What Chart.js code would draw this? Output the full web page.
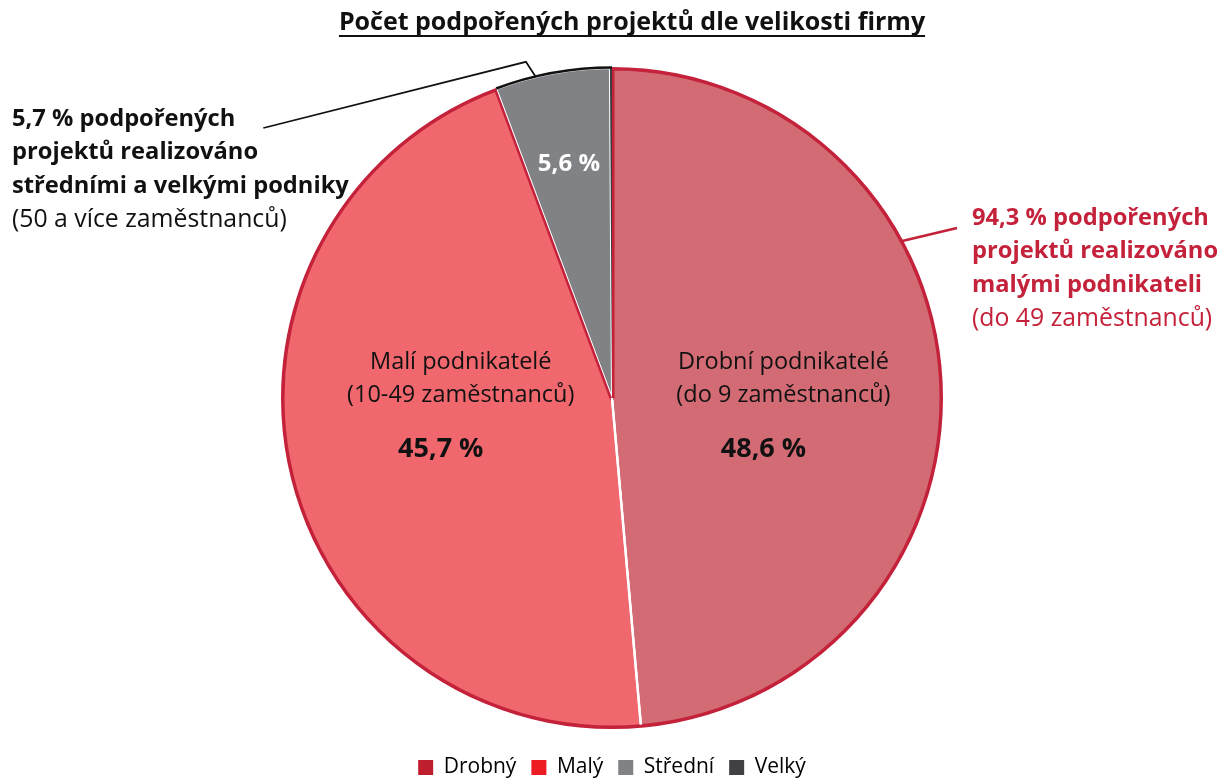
<!DOCTYPE html>
<html lang="cs">
<head>
<meta charset="utf-8">
<script src="https://cdn.jsdelivr.net/npm/chart.js@4"></script>
<style>
  html, body { margin: 0; padding: 0; background: #fff; }
  #obal { width: 1221px; height: 780px; }
</style>
</head>
<body>
<div id="obal"><canvas id="grafFirmy"></canvas></div>
<script>
// ─── DATA ───
var TITULEK = 'Počet podpořených projektů dle velikosti firmy';
var KATEGORIE = ['Drobný', 'Malý', 'Střední', 'Velký'];
var PODILY = [48.6, 45.7, 5.6, 0.1];
var POPISKY_PCT = ['48,6 %', '45,7 %', '5,6 %', ''];
var POPISKY_NAZEV = [
  ['Drobní podnikatelé', '(do 9 zaměstnanců)'],
  ['Malí podnikatelé', '(10-49 zaměstnanců)'],
  [],
  []
];
var POZN_MALI = ['94,3 % podpořených', 'projektů realizováno', 'malými podnikateli', '(do 49 zaměstnanců)'];
var POZN_VELCI = ['5,7 % podpořených', 'projektů realizováno', 'středními a velkými podniky', '(50 a více zaměstnanců)'];

// ─── BARVY ───
var BARVY_VYSECI = ['#D36B75', '#F0686E', '#808285', '#3B3B3D'];
var BARVY_LEGENDA = ['#BE1E2D', '#ED1C24', '#808285', '#414042'];
var CERVENA = '#C4213A';
var PISMO = '"Open Sans", Lato, sans-serif';

Chart.defaults.font.family = PISMO;

// Popisky, obrysy skupin a odkazové čáry
var popiskyPlugin = {
  id: 'popisky',
  afterDatasetsDraw: function(chart) {
    var ctx = chart.ctx;
    var arcs = chart.getDatasetMeta(0).data;
    var cx = arcs[0].x, cy = arcs[0].y, R = arcs[0].outerRadius;

    function bod(uhel, r) { return { x: cx + r * Math.cos(uhel), y: cy + r * Math.sin(uhel) }; }

    ctx.save();
    // červený obrys malých podnikatelů (drobní + malí), kreslený dovnitř výseče
    ctx.save();
    ctx.beginPath();
    ctx.moveTo(cx, cy);
    ctx.arc(cx, cy, R + 1, arcs[0].startAngle, arcs[1].endAngle);
    ctx.closePath();
    ctx.clip();
    ctx.beginPath();
    ctx.moveTo(cx, cy);
    ctx.arc(cx, cy, R, arcs[0].startAngle, arcs[1].endAngle);
    ctx.closePath();
    ctx.lineWidth = 5;
    ctx.strokeStyle = CERVENA;
    ctx.lineJoin = 'round';
    ctx.stroke();
    ctx.restore();
    // bílá dělicí čára drobní / malí
    var p = bod(arcs[0].endAngle, R - 2);
    ctx.beginPath();
    ctx.moveTo(cx, cy);
    ctx.lineTo(p.x, p.y);
    ctx.strokeStyle = '#fff';
    ctx.lineWidth = 2.5;
    ctx.stroke();

    // černý oblouk středních a velkých
    ctx.beginPath();
    ctx.arc(cx, cy, R + 0.5, arcs[2].startAngle, arcs[3].endAngle);
    ctx.strokeStyle = '#111';
    ctx.lineWidth = 2.5;
    ctx.stroke();

    // popisky uvnitř výsečí
    var KOEF = [0.52, 0.47, 0.72, 0];
    ctx.textBaseline = 'middle';
    arcs.forEach(function(a, i) {
      if (!KOEF[i]) return;
      var stred = (a.startAngle + a.endAngle) / 2;
      var q = bod(stred, KOEF[i] * R);
      var radky = POPISKY_NAZEV[i];
      if (radky.length) {
        ctx.fillStyle = '#111';
        ctx.font = '23.5px ' + PISMO;
        ctx.textAlign = 'center';
        ctx.fillText(radky[0], q.x, cy - 36);
        ctx.fillText(radky[1], q.x, cy - 3);
        ctx.font = 'bold 27px ' + PISMO;
        ctx.fillText(POPISKY_PCT[i], q.x - 20, cy + 51);
      } else {
        ctx.fillStyle = '#fff';
        ctx.font = 'bold 24px ' + PISMO;
        ctx.textAlign = 'center';
        ctx.fillText(POPISKY_PCT[i], q.x, q.y);
      }
    });

    // titulek s podtržením
    ctx.fillStyle = '#111';
    ctx.font = 'bold 25px ' + PISMO;
    ctx.textAlign = 'center';
    ctx.textBaseline = 'alphabetic';
    var tx = 632, ty = 30;
    ctx.fillText(TITULEK, tx, ty);
    var sirka = ctx.measureText(TITULEK).width;
    ctx.fillRect(tx - sirka / 2, ty + 5, sirka, 2);

    // poznámky vně grafu
    var RADEK = 33.5;
    function blok(radky, x, y, barva) {
      ctx.textAlign = 'left';
      ctx.textBaseline = 'middle';
      ctx.fillStyle = barva;
      radky.forEach(function(t, i) {
        ctx.font = (i < radky.length - 1 ? 'bold 23.7px ' : '24.8px ') + PISMO;
        ctx.fillText(t, x, y + i * RADEK);
      });
    }
    var lx = 12, ly = 119;
    blok(POZN_VELCI, lx, ly, '#111');
    ctx.font = 'bold 23.7px ' + PISMO;
    var konecL = lx + ctx.measureText(POZN_VELCI[0]).width + 28;
    var pocatek = bod(arcs[2].startAngle + 0.35 * (arcs[3].endAngle - arcs[2].startAngle), R);
    var loket = bod(arcs[2].startAngle + 0.3 * (arcs[3].endAngle - arcs[2].startAngle), R + 17);
    ctx.beginPath();
    ctx.moveTo(pocatek.x, pocatek.y);
    ctx.lineTo(loket.x, loket.y);
    ctx.lineTo(konecL, ly + 9);
    ctx.strokeStyle = '#111';
    ctx.lineWidth = 1.8;
    ctx.stroke();

    var rx = 972, ry = 218;
    blok(POZN_MALI, rx, ry, CERVENA);
    var hrana = bod(arcs[0].startAngle + 0.352 * (arcs[0].endAngle - arcs[0].startAngle), R);
    ctx.beginPath();
    ctx.moveTo(hrana.x, hrana.y);
    ctx.lineTo(rx - 15, ry + 10);
    ctx.strokeStyle = CERVENA;
    ctx.lineWidth = 2.5;
    ctx.stroke();
    ctx.restore();
  }
};

new Chart(document.getElementById('grafFirmy'), {
  type: 'pie',
  data: {
    labels: KATEGORIE,
    datasets: [{
      data: PODILY,
      backgroundColor: BARVY_VYSECI,
      borderColor: '#fff',
      borderWidth: [2, 2, 2, 0],
      radius: 330
    }]
  },
  options: {
    responsive: true,
    maintainAspectRatio: false,
    animation: false,
    events: [],
    layout: { padding: { top: 54, left: 3, right: 0, bottom: -8 } },
    plugins: {
      tooltip: { enabled: false },
      title: { display: false },
      legend: {
        position: 'bottom',
        labels: {
          color: '#111',
          font: { size: 21 },
          boxWidth: 15,
          boxHeight: 15,
          padding: 15,
          generateLabels: function(chart) {
            return KATEGORIE.map(function(k, i) {
              return { text: k, fillStyle: BARVY_LEGENDA[i], strokeStyle: BARVY_LEGENDA[i], lineWidth: 0, index: i, hidden: false };
            });
          }
        }
      }
    }
  },
  plugins: [popiskyPlugin]
});
</script>
</body>
</html>
